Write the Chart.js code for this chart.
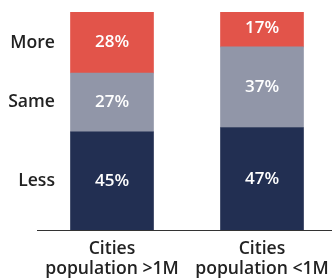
<!DOCTYPE html>
<html>
<head>
<meta charset="utf-8">
<script src="https://cdn.jsdelivr.net/npm/chart.js@4/dist/chart.umd.min.js"></script>
<style>
  html, body { margin: 0; padding: 0; background: #fff; overflow: hidden; }
  #wrap { width: 340px; height: 280px; }
</style>
</head>
<body>
<div id="wrap"><canvas id="chart" width="340" height="280"></canvas></div>
<script>
const categories = [['Cities', 'population >1M'], ['Cities', 'population <1M']];
const seriesNames = ['Less', 'Same', 'More'];
const lessValues = [45, 47];
const sameValues = [27, 37];
const moreValues = [28, 17];
const colors = ['#222F52', '#9196A8', '#E2544A'];

const labelFont = '600 17.6px "Open Sans"';

// percent labels inside bars + row names left of first bar
const barLabels = {
    id: 'barLabels',
    afterDatasetsDraw(chart) {
        const ctx = chart.ctx;
        ctx.save();
        ctx.textBaseline = 'middle';
        chart.data.datasets.forEach((ds, i) => {
            const meta = chart.getDatasetMeta(i);
            meta.data.forEach((bar, j) => {
                const mid = (bar.y + bar.base) / 2;
                ctx.fillStyle = '#fff';
                ctx.font = '600 17px "Open Sans"';
                ctx.textAlign = 'center';
                ctx.fillText(ds.data[j] + '%', bar.x, mid);
                if (j === 0) {
                    ctx.fillStyle = '#222';
                    ctx.font = labelFont;
                    ctx.textAlign = 'right';
                    ctx.fillText(ds.label, 55, mid);
                }
            });
        });
        ctx.restore();
    }
};

new Chart(document.getElementById('chart'), {
    type: 'bar',
    data: {
        labels: categories,
        datasets: [
            { label: seriesNames[0], data: lessValues, backgroundColor: colors[0] },
            { label: seriesNames[1], data: sameValues, backgroundColor: colors[1] },
            { label: seriesNames[2], data: moreValues, backgroundColor: colors[2] }
        ]
    },
    options: {
        responsive: false,
        animation: false,
        barThickness: 83,
        layout: { padding: { left: 37, right: 3, top: 12, bottom: 0 } },
        plugins: {
            legend: { display: false },
            tooltip: { enabled: false }
        },
        scales: {
            x: {
                stacked: true,
                grid: { display: false, drawTicks: false },
                border: { display: true, color: '#333', width: 1 },
                afterFit: (scale) => { scale.height = 50; },
                ticks: {
                    color: '#222',
                    padding: 9,
                    font: { family: 'Open Sans', size: 17.6, weight: '600', lineHeight: 1.13 }
                }
            },
            y: {
                stacked: true,
                display: false,
                min: 0,
                max: 100
            }
        }
    },
    plugins: [barLabels]
});
</script>
</body>
</html>
